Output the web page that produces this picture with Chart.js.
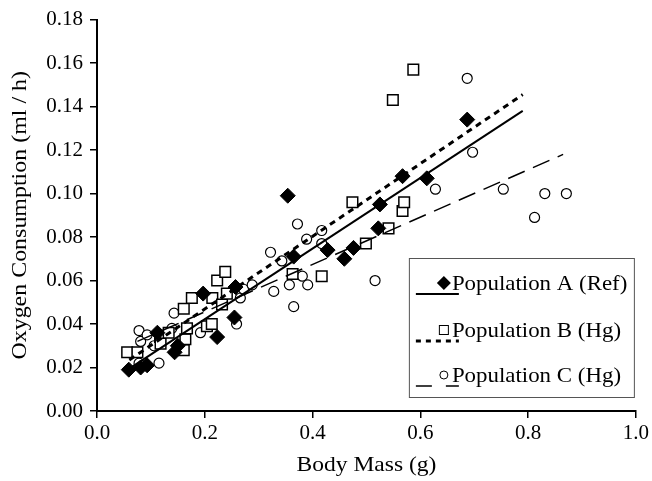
<!DOCTYPE html>
<html>
<head>
<meta charset="utf-8">
<script src="https://cdn.jsdelivr.net/npm/chart.js@4"></script>
<style>
  html, body { margin: 0; padding: 0; background: #fff; }
  #wrap { width: 652px; height: 481px; }
</style>
</head>
<body>
<div id="wrap"><canvas id="chart" width="652" height="481"></canvas></div>
<script>
// ===== Data =====
const massA = [0.059, 0.081, 0.093, 0.112, 0.144, 0.150, 0.197, 0.223, 0.255, 0.257, 0.354, 0.365, 0.428, 0.459, 0.476, 0.522, 0.525, 0.567, 0.612, 0.687];
const oxyA  = [0.019, 0.020, 0.021, 0.036, 0.027, 0.030, 0.054, 0.034, 0.043, 0.057, 0.099, 0.071, 0.074, 0.070, 0.075, 0.084, 0.095, 0.108, 0.107, 0.134];

const massB = [0.056, 0.075, 0.117, 0.118, 0.133, 0.161, 0.164, 0.167, 0.161, 0.176, 0.204, 0.213, 0.214, 0.223, 0.232, 0.238, 0.241, 0.363, 0.417, 0.474, 0.499, 0.541, 0.549, 0.567, 0.570, 0.587];
const oxyB  = [0.027, 0.027, 0.034, 0.031, 0.036, 0.028, 0.033, 0.038, 0.047, 0.052, 0.039, 0.040, 0.052, 0.060, 0.049, 0.064, 0.054, 0.063, 0.062, 0.096, 0.077, 0.084, 0.143, 0.092, 0.096, 0.157];

const massC = [0.078, 0.081, 0.078, 0.093, 0.106, 0.115, 0.139, 0.143, 0.192, 0.259, 0.266, 0.272, 0.288, 0.322, 0.328, 0.343, 0.357, 0.365, 0.372, 0.381, 0.389, 0.391, 0.417, 0.417, 0.516, 0.628, 0.687, 0.697, 0.754, 0.812, 0.831, 0.871];
const oxyC  = [0.037, 0.032, 0.022, 0.035, 0.030, 0.022, 0.038, 0.045, 0.036, 0.040, 0.052, 0.056, 0.058, 0.073, 0.055, 0.069, 0.058, 0.048, 0.086, 0.062, 0.079, 0.058, 0.083, 0.077, 0.060, 0.102, 0.153, 0.119, 0.102, 0.089, 0.100, 0.100];

// regression lines (end points)
const fitMassAB = [0.06, 0.79];
const fitA = [0.0195, 0.138];
const fitB = [0.0235, 0.1455];
const fitMassC = [0.075, 0.865];
const fitC = [0.032, 0.118];

const legendLabels = ['Population A (Ref)', 'Population B (Hg)', 'Population C (Hg)'];
const xTitle = 'Body Mass (g)';
const yTitle = 'Oxygen Consumption (ml / h)';

const FONT = "'Liberation Serif', 'Times New Roman', serif";

function pts(xs, ys) {
    return xs.map((x, i) => ({ x: x, y: ys[i] }));
}

// text in the original is a bit wider than Times, so stretch it a little
function wideText(ctx, text, x, y, sx, align) {
    ctx.save();
    ctx.translate(x, y);
    ctx.scale(sx, 1);
    ctx.textAlign = align;
    ctx.fillText(text, 0, 0);
    ctx.restore();
}

// ===== Axis titles =====
const axisTitles = {
    id: 'axisTitles',
    afterDraw(chart) {
        const ctx = chart.ctx;
        const area = chart.chartArea;
        ctx.save();
        ctx.fillStyle = '#000';
        ctx.font = "21px " + FONT;
        ctx.textBaseline = 'middle';
        wideText(ctx, xTitle, (area.left + area.right) / 2, 465, 1.12, 'center');
        ctx.translate(20, (area.top + area.bottom) / 2);
        ctx.rotate(-Math.PI / 2);
        wideText(ctx, yTitle, 0, 0, 1.14, 'center');
        ctx.restore();
    }
};

// ===== Legend drawn inside the plot =====
const boxLegend = {
    id: 'boxLegend',
    afterDraw(chart) {
        const ctx = chart.ctx;
        const area = chart.chartArea;
        const left = area.right - 227, right = area.right - 2;
        const top = area.bottom - 153, bottom = area.bottom - 14;
        ctx.save();
        ctx.fillStyle = '#fff';
        ctx.fillRect(left, top, right - left, bottom - top);
        ctx.strokeStyle = '#555';
        ctx.lineWidth = 1;
        ctx.strokeRect(left + 0.5, top + 0.5, right - left, bottom - top);

        const rows = [top + 25, top + 72, top + 117];
        const dashes = [[], [5, 5], [16, 14]];
        const widths = [2, 3, 1.5];
        rows.forEach((cy, i) => {
            const lx0 = left + 7, lx1 = left + 50, mx = left + 35;
            // line sample
            ctx.strokeStyle = '#000';
            ctx.lineWidth = widths[i];
            ctx.setLineDash(dashes[i]);
            ctx.beginPath();
            ctx.moveTo(lx0, cy + 11);
            ctx.lineTo(lx1, cy + 11);
            ctx.stroke();
            ctx.setLineDash([]);
            // marker
            ctx.lineWidth = 1;
            ctx.beginPath();
            if (i === 0) {
                ctx.fillStyle = '#000';
                ctx.moveTo(mx, cy - 7); ctx.lineTo(mx + 7, cy); ctx.lineTo(mx, cy + 7); ctx.lineTo(mx - 7, cy); ctx.closePath();
                ctx.fill();
            } else if (i === 1) {
                ctx.strokeRect(mx - 4.5, cy - 4.5, 9, 9);
            } else {
                ctx.arc(mx, cy, 4, 0, Math.PI * 2);
                ctx.stroke();
            }
            // label
            ctx.fillStyle = '#000';
            ctx.font = "21px " + FONT;
            ctx.textBaseline = 'middle';
            wideText(ctx, legendLabels[i], left + 43, cy + 1, 1.09, 'left');
        });
        ctx.restore();
    }
};

const whiteBg = {
    id: 'whiteBg',
    beforeDraw(chart) {
        const ctx = chart.ctx;
        ctx.save();
        ctx.fillStyle = '#fff';
        ctx.fillRect(0, 0, chart.width, chart.height);
        ctx.restore();
    }
};

const ctx = document.getElementById('chart').getContext('2d');
new Chart(ctx, {
    type: 'scatter',
    data: {
        datasets: [
            {
                label: 'fit A', type: 'line', data: pts(fitMassAB, fitA), order: 0,
                borderColor: '#000', borderWidth: 2, pointRadius: 0, fill: false
            },
            {
                label: 'fit B', type: 'line', data: pts(fitMassAB, fitB), order: 0,
                borderColor: '#000', borderWidth: 3, borderDash: [6, 5], pointRadius: 0, fill: false
            },
            {
                label: 'fit C', type: 'line', data: pts(fitMassC, fitC), order: 0,
                borderColor: '#000', borderWidth: 1.5, borderDash: [18, 9], pointRadius: 0, fill: false
            },
            {
                label: legendLabels[0], data: pts(massA, oxyA), order: 1,
                pointStyle: 'rectRot', pointRadius: 7.5,
                backgroundColor: '#000', borderColor: '#000', borderWidth: 1
            },
            {
                label: legendLabels[1], data: pts(massB, oxyB), order: 2,
                pointStyle: 'rect', pointRadius: 7.5,
                backgroundColor: '#fff', borderColor: '#000', borderWidth: 1.5
            },
            {
                label: legendLabels[2], data: pts(massC, oxyC), order: 3,
                pointStyle: 'circle', pointRadius: 5,
                backgroundColor: '#fff', borderColor: '#000', borderWidth: 1.2
            }
        ]
    },
    options: {
        responsive: false,
        animation: false,
        events: [],
        layout: { padding: { left: 0, top: 19, right: 15, bottom: 0 } },
        plugins: {
            legend: { display: false },
            tooltip: { enabled: false }
        },
        scales: {
            x: {
                type: 'linear', min: 0, max: 1,
                afterFit: s => { s.height = 70; },
                border: { display: true, color: '#000', width: 2 },
                grid: { drawOnChartArea: false, drawTicks: true, tickLength: 7, color: '#000', lineWidth: 1.5 },
                ticks: {
                    stepSize: 0.2, color: '#000', padding: 3,
                    font: { family: FONT, size: 21 },
                    callback: v => v.toFixed(1)
                }
            },
            y: {
                type: 'linear', min: 0, max: 0.18,
                afterFit: s => { s.width = 97; },
                border: { display: true, color: '#000', width: 2 },
                grid: { drawOnChartArea: false, drawTicks: true, tickLength: 7, color: '#000', lineWidth: 1.5 },
                ticks: {
                    stepSize: 0.02, color: '#000', padding: 7,
                    font: { family: FONT, size: 21 },
                    callback: v => v.toFixed(2)
                }
            }
        }
    },
    plugins: [whiteBg, axisTitles, boxLegend]
});
</script>
</body>
</html>
